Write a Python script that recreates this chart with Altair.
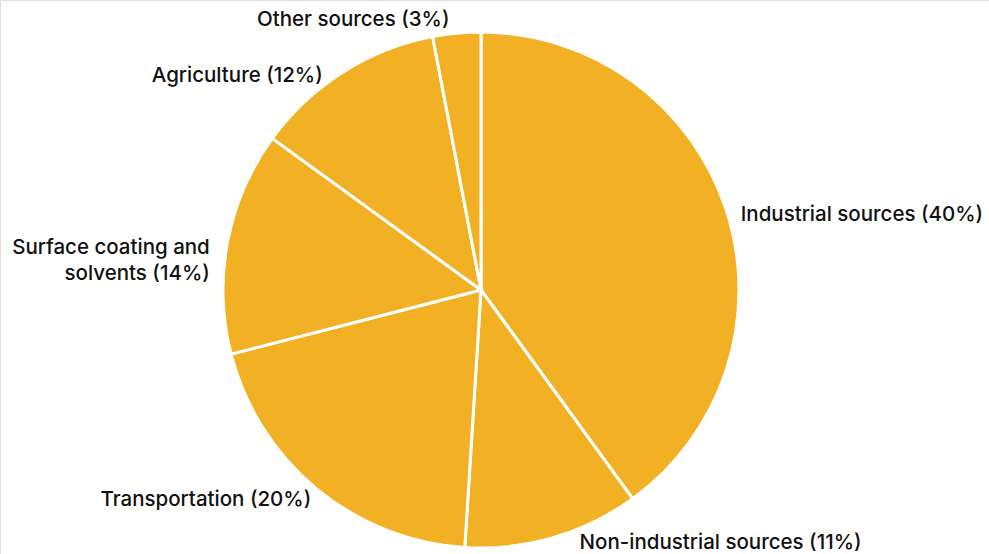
import altair as alt
import pandas as pd

categories = [
    "Industrial sources",
    "Non-industrial sources",
    "Transportation",
    "Surface coating and solvents",
    "Agriculture",
    "Other sources",
]
labels = [
    "Industrial sources (40%)",
    "Non-industrial sources (11%)",
    "Transportation (20%)",
    "Surface coating and\nsolvents (14%)",
    "Agriculture (12%)",
    "Other sources (3%)",
]
values = [40, 11, 20, 14, 12, 3]

df = pd.DataFrame({
    "category": categories,
    "label": labels,
    "value": values,
    "order": list(range(len(values))),
})

color = "#F2B124"
theta_scale = alt.Scale(domain=[0, 100])
cx, cy = 481, 290

base = alt.Chart(df)

arcs = base.mark_arc(outerRadius=258, stroke="white", strokeWidth=3, color=color).encode(
    theta=alt.Theta("value:Q", stack=True, scale=theta_scale),
    order=alt.Order("order:Q"),
    x=alt.value(cx),
    y=alt.value(cy),
)

text_base = base.transform_window(
    cum="sum(value)", sort=[alt.SortField("order")], frame=[None, 0]
).transform_calculate(
    mid="datum.cum - datum.value / 2"
)

text_style = dict(radius=271, font="Inter", fontSize=20.5, fontWeight=500,
                  color="#111111", lineBreak="\n", lineHeight=26, baseline="middle")

# label placement groups by angular position (share of the circle)
groups = [
    (0, 25, "left", 2, 9),
    (25, 50, "left", 23, -7),
    (50, 75, "right", 3, 1),
    (75, 85, "right", -5, 9),
    (85, 95, "right", -13, 15),
    (95, 100.1, "right", -6, 0),
]

layers = [arcs]
for lo, hi, align, dx, dy in groups:
    layers.append(
        text_base.transform_filter(f"datum.mid >= {lo} && datum.mid < {hi}")
        .mark_text(align=align, dx=dx, dy=dy, **text_style)
        .encode(
            theta=alt.Theta("mid:Q", stack=None, scale=theta_scale),
            text="label:N",
            x=alt.value(cx),
            y=alt.value(cy),
        )
    )

chart = alt.layer(*layers).properties(
    width=989, height=554, padding=0, autosize=alt.AutoSizeParams(type="none")
).configure_view(stroke=None).configure(background="white")

chart.save("out.html", embed_options={"renderer": "svg", "actions": False})
